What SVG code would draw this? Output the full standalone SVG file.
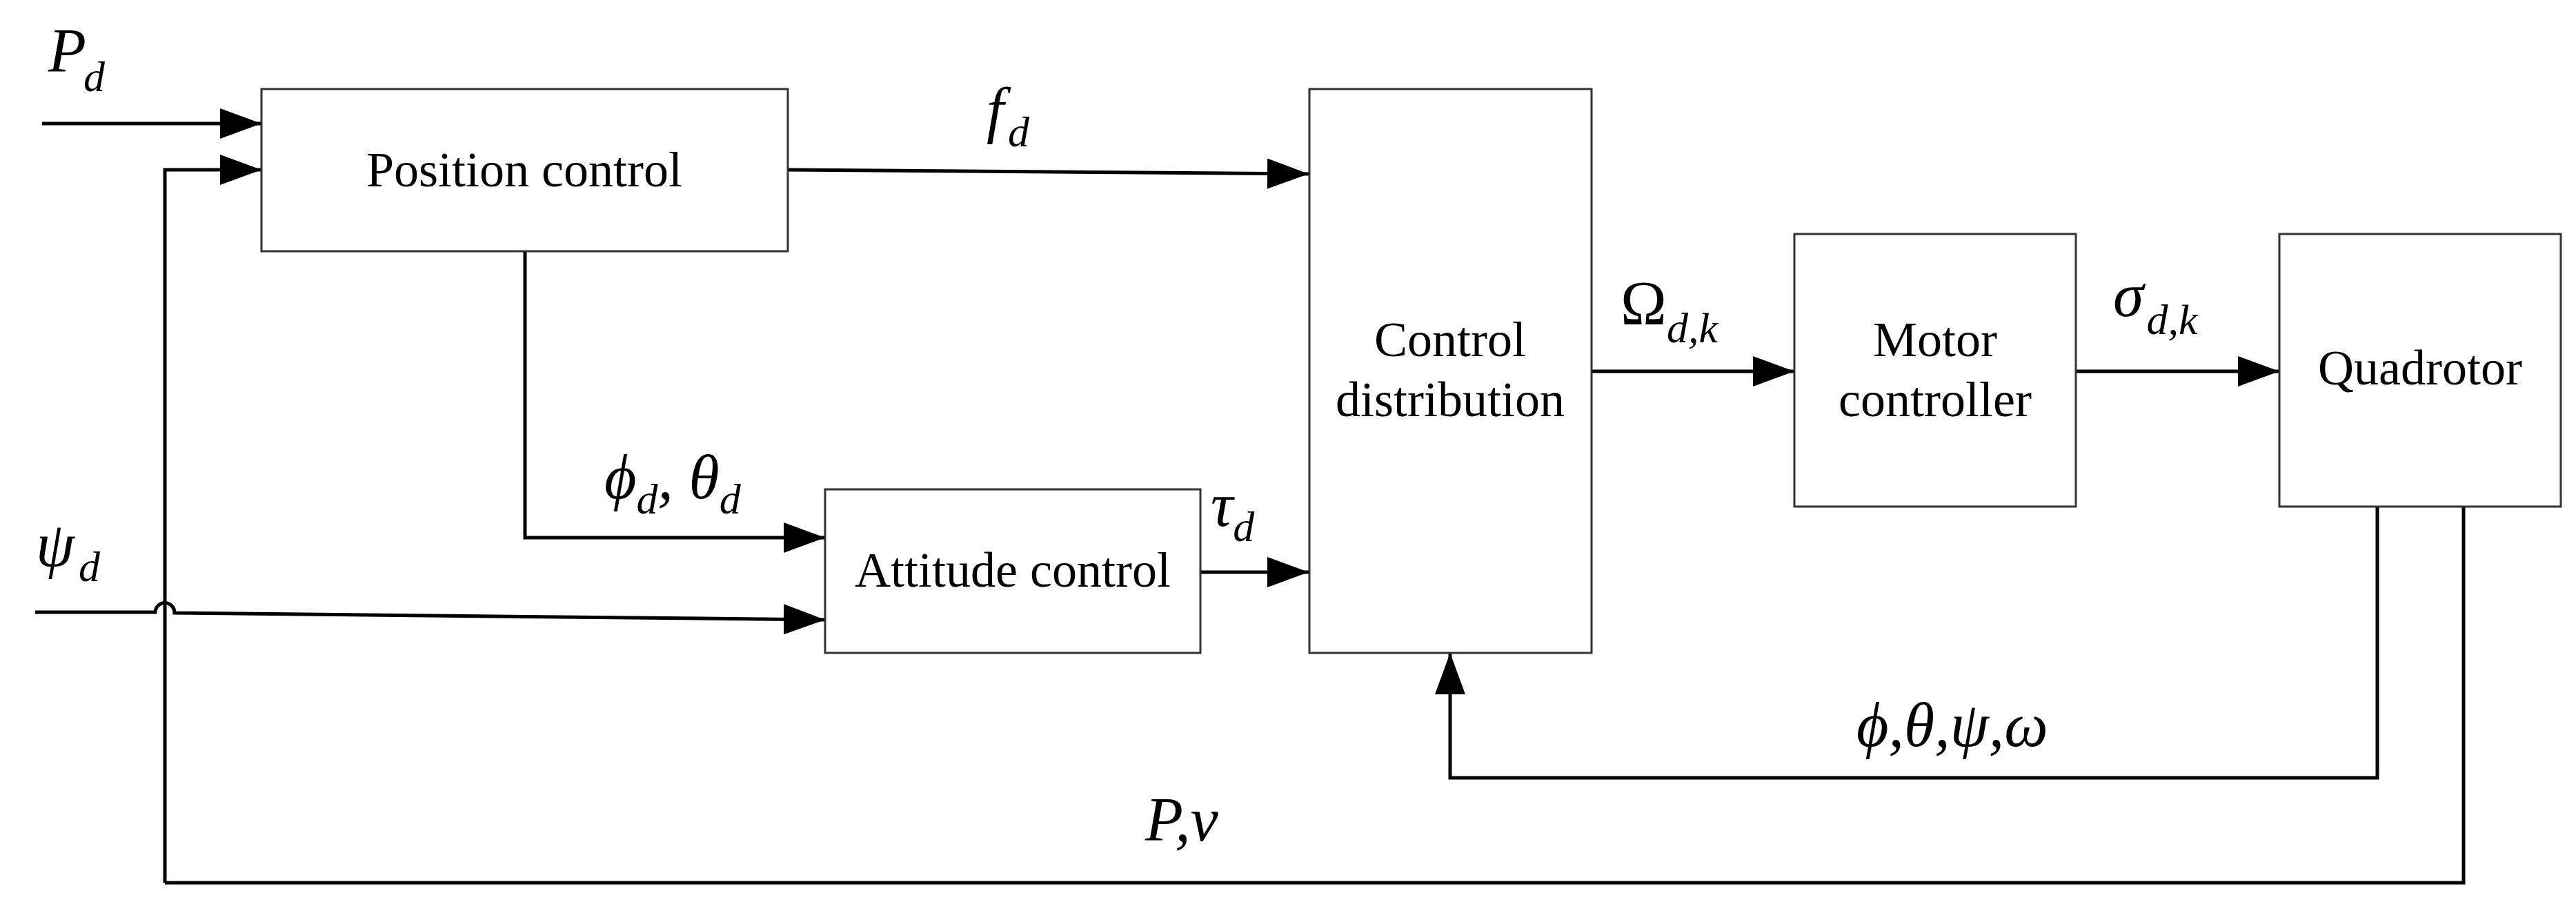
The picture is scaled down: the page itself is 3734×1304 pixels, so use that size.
<svg xmlns="http://www.w3.org/2000/svg" width="3734" height="1304" viewBox="0 0 3734 1304">
<style>
.box{fill:#fff;stroke:#333;stroke-width:3}
.ln{fill:none;stroke:#000;stroke-width:5}
.t{font-family:"Liberation Serif",serif;font-size:72px;text-anchor:middle;fill:#000}
.m{font-family:"Liberation Serif",serif;font-style:italic;font-size:90px;fill:#000}
.s{font-size:62px}
</style>
<defs>
<marker id="a" viewBox="0 0 60 44" refX="60" refY="22" markerWidth="60" markerHeight="44" markerUnits="userSpaceOnUse" orient="auto"><path d="M0,0L60,22L0,44Z" fill="#000"/></marker>
</defs>
<rect width="3734" height="1304" fill="#fff"/>
<g id="connectors">
<path class="ln" marker-end="url(#a)" d="M61,179H379"/>
<path class="ln" marker-end="url(#a)" d="M239,1279V246H379"/>
<path class="ln" d="M239,1279H3571V734"/>
<path class="ln" marker-end="url(#a)" d="M1142,246L1897,252"/>
<path class="ln" marker-end="url(#a)" d="M761,364V779H1196"/>
<path class="ln" marker-end="url(#a)" d="M51,887H225A14,14 0 0 1 253,888L1196,898"/>
<path class="ln" marker-end="url(#a)" d="M1740,829H1897"/>
<path class="ln" marker-end="url(#a)" d="M2307,538H2601"/>
<path class="ln" marker-end="url(#a)" d="M3009,538H3304"/>
<path class="ln" marker-end="url(#a)" d="M3446,734V1127H2102V946"/>
</g>
<g id="position"><rect class="box" x="379" y="129" width="763" height="235"/><text class="t" x="760" y="270">Position control</text></g>
<g id="attitude"><rect class="box" x="1196" y="709" width="544" height="237"/><text class="t" x="1468" y="850">Attitude control</text></g>
<g id="distribution"><rect class="box" x="1898" y="129" width="409" height="817"/><text class="t" x="2102" y="516">Control</text><text class="t" x="2102" y="603">distribution</text></g>
<g id="motor"><rect class="box" x="2601" y="339" width="408" height="395"/><text class="t" x="2805" y="516">Motor</text><text class="t" x="2805" y="603">controller</text></g>
<g id="quadrotor"><rect class="box" x="3304" y="339" width="408" height="395"/><text class="t" x="3508" y="557">Quadrotor</text></g>
<g id="labels">
<text class="m" x="70" y="104">P<tspan class="s" dx="-4" dy="28">d</tspan></text>
<text class="m" x="1430" y="190">f<tspan class="s" dx="6" dy="22">d</tspan></text>
<text class="m" x="876" y="722">ϕ<tspan class="s" dy="22">d</tspan><tspan dy="-22">, θ</tspan><tspan class="s" dy="22">d</tspan></text>
<text class="m" x="1755" y="762">τ<tspan class="s" dy="22">d</tspan></text>
<text class="m" x="52" y="820">ψ<tspan class="s" dx="6" dy="22">d</tspan></text>
<text class="m" x="1660" y="1218">P,v</text>
<text class="m" x="2349" y="470" style="font-style:normal">Ω<tspan class="s" style="font-style:italic" dy="26">d,k</tspan></text>
<text class="m" x="3063" y="458">σ<tspan class="s" dx="4" dy="26">d,k</tspan></text>
<text class="m" x="2691" y="1081">ϕ,θ,ψ,ω</text>
</g>
</svg>
